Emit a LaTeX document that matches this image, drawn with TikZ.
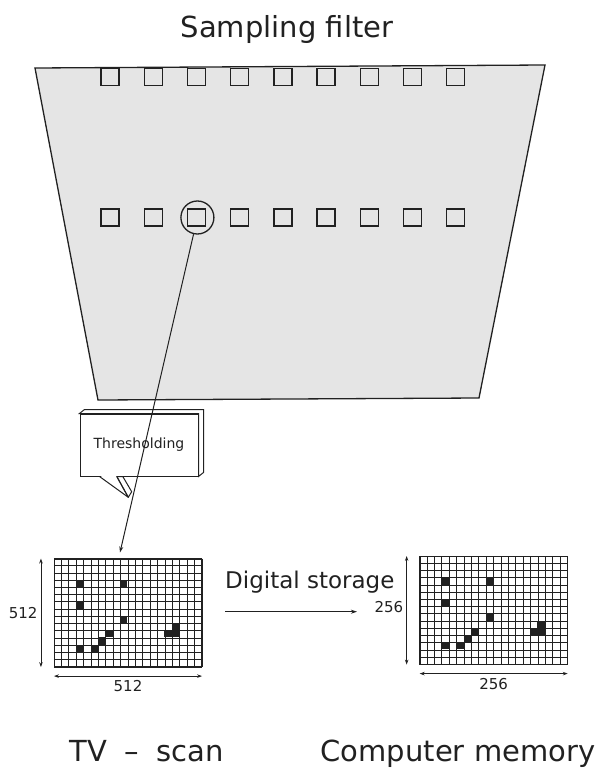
\documentclass[tikz,border=0pt]{standalone}
\usepackage{fontspec}
\setmainfont{DejaVu Sans}
\usetikzlibrary{arrows.meta,positioning,calc}
\definecolor{Sheet}{gray}{0.9}
\definecolor{Ink}{gray}{0.13}
\tikzset{
 hole/.style={draw=Ink,line width=1.4pt,minimum width=18pt,minimum height=17pt,inner sep=0pt},
 screen/.style={draw=Ink,line width=1.1pt,minimum width=147pt,minimum height=107.5pt,inner sep=0pt},
 gridline/.style={draw=Ink,line width=0.9pt},
 dim/.style={{Stealth[length=5pt,width=3.5pt]}-{Stealth[length=5pt,width=3.5pt]},line width=0.9pt,draw=Ink},
 arr/.style={-{Stealth[length=6pt,width=4pt]},line width=1pt,draw=Ink},
 bigtext/.style={font=\fontsize{29}{34}\selectfont,text=Ink},
 medtext/.style={font=\fontsize{23}{27}\selectfont,text=Ink},
 dimtext/.style={font=\fontsize{15}{18}\selectfont,text=Ink},
 boxtext/.style={font=\fontsize{14}{17}\selectfont,text=Ink}
}
\begin{document}
\begin{tikzpicture}[x=1pt,y=-1pt]
\useasboundingbox (0,0) rectangle (614,771);
% sampling filter sheet
\node[bigtext,anchor=base] (title) at (287,37) {Sampling filter};
\filldraw[fill=Sheet,draw=Ink,line width=1.3pt] (35,68) -- (545,65) -- (479,398) -- (98,400) -- cycle;
\foreach \i in {0,...,8} {
  \node[hole] (top\i) at (110+43.2*\i,77) {};
  \node[hole] (mid\i) at (110+43.2*\i,217.5) {};
}
\node[circle,draw=Ink,line width=1.3pt,minimum size=33pt,inner sep=0pt] (pick) at ([xshift=1pt]mid2) {};
% thresholding callout
\node[draw=Ink,line width=1pt,fill=white,minimum width=118pt,minimum height=62pt,inner sep=0pt,boxtext] (thr) at (139,445) {Thresholding};
\filldraw[fill=white,draw=Ink,line width=1pt] (thr.north west) -- ++(5,-4) -- ($(thr.north east)+(5,-4)$) -- ($(thr.south east)+(5,-4)$) -- (thr.south east) -- (thr.north east) -- cycle;
\fill[white] ($(thr.south west)+(20.6,-1)$) -- (128.3,497.3) -- ($(thr.south west)+(36.8,-1)$) -- cycle;
\filldraw[fill=white,draw=Ink,line width=1pt,line join=round] ($(thr.south west)+(37.3,0)$) -- ++(6,0) -- (131.7,491.7) -- (128.3,497.3) -- cycle;
\draw[Ink,line width=1pt,line join=round] ($(thr.south west)+(20,0)$) -- (128.3,497.3) -- ($(thr.south west)+(37.3,0)$);
% screens
\node[screen] (tv) at (128,612.8) {};
\node[screen] (mem) at (493.7,610.3) {};
\foreach \g in {tv,mem} {
  \foreach \c in {0,...,20}
    \draw[gridline] ($(\g.north west)!\c/20!(\g.north east)$) -- ($(\g.south west)!\c/20!(\g.south east)$);
  \foreach \r in {0,...,15}
    \draw[gridline] ($(\g.north west)!\r/15!(\g.south west)$) -- ($(\g.north east)!\r/15!(\g.south east)$);
  \foreach \c/\r in {3/3,9/3,3/6,9/8,16/9,7/10,15/10,16/10,6/11,3/12,5/12}
    \fill[Ink] ($(\g.north west)+(\c*7.35,\r*7.1667)$) rectangle ++(7.35,7.1667);
}
% dimensions
\draw[dim] ([xshift=-13pt]tv.north west) -- node[left,dimtext,inner sep=3pt] {512} ([xshift=-13pt]tv.south west);
\draw[dim] ([yshift=-9pt]tv.south west) -- node[below,dimtext,inner sep=4pt] {512} ([yshift=-9pt]tv.south east);
\draw[dim] ([xshift=-13pt]mem.north west) -- node[left,dimtext,inner sep=3pt,yshift=3pt] {256} ([xshift=-13pt]mem.south west);
\draw[dim] ([yshift=-9pt]mem.south west) -- node[below,dimtext,inner sep=4pt] {256} ([yshift=-9pt]mem.south east);
% transfer
\node[medtext,anchor=base west,inner sep=0pt] (store) at (225,588) {Digital storage};
\coordinate (st0) at (225,611.7);
\coordinate (st1) at (357,611.7);
\draw[arr] (st0) -- (st1);
\coordinate (tip) at (120,552.5);
\draw[arr] (pick) -- (tip);
% captions
\node[bigtext,anchor=base] (tvlab) at (147,761) {TV\hspace{0.6em}--\hspace{0.6em}scan};
\node[bigtext,anchor=base] (memlab) at (458,761) {Computer memory};
\end{tikzpicture}
\end{document}
